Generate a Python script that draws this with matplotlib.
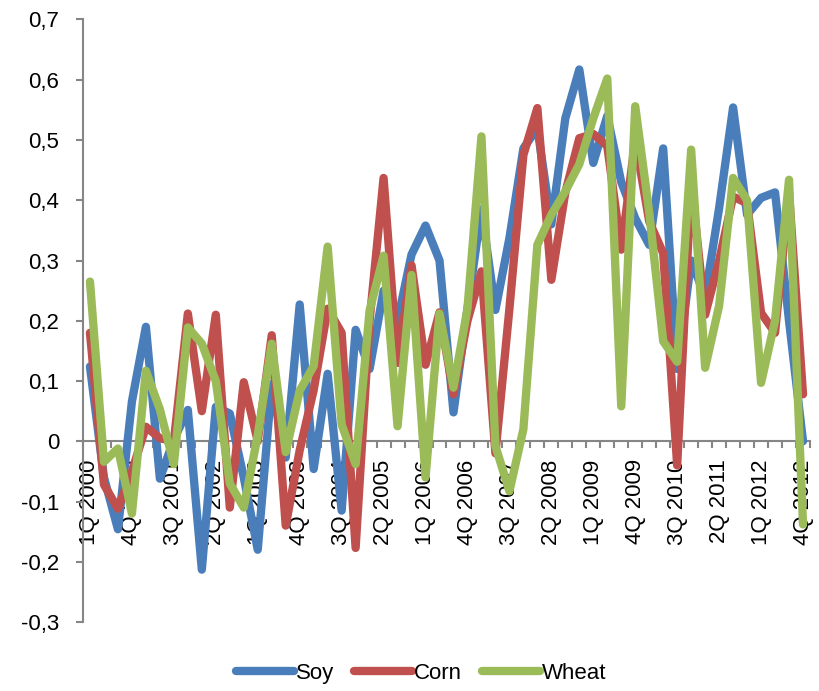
import matplotlib
matplotlib.use('Agg')
import matplotlib.pyplot as plt
import numpy as np
from matplotlib.ticker import FuncFormatter, FixedLocator

plt.rcParams['font.family'] = ['Liberation Sans', 'DejaVu Sans']

# quarters 1Q 2000 .. 4Q 2012
quarters = [f'{q}Q {y}' for y in range(2000, 2013) for q in range(1, 5)]

soy = [0.124, -0.06, -0.146, 0.066, 0.19, -0.062, 0.003, 0.052, -0.213, 0.057,
       0.046, -0.06, -0.18, 0.095, -0.027, 0.227, -0.046, 0.112, -0.115, 0.185,
       0.12, 0.25, 0.2, 0.31, 0.358, 0.3, 0.048, 0.22, 0.385, 0.218,
       0.337, 0.486, 0.52, 0.36, 0.536, 0.617, 0.462, 0.54, 0.43, 0.37,
       0.326, 0.486, 0.12, 0.3, 0.24, 0.387, 0.554, 0.376, 0.404, 0.413,
       0.2, 0.0]
corn = [0.18, -0.072, -0.112, -0.05, 0.024, 0.005, 0.0, 0.212, 0.05, 0.21,
        -0.11, 0.098, 0.0, 0.176, -0.14, -0.015, 0.085, 0.22, 0.18, -0.177,
        0.2, 0.437, 0.13, 0.292, 0.127, 0.214, 0.078, 0.2, 0.282, -0.02,
        0.22, 0.475, 0.553, 0.268, 0.413, 0.503, 0.51, 0.49, 0.318, 0.5,
        0.365, 0.312, -0.04, 0.43, 0.21, 0.3, 0.406, 0.395, 0.213, 0.18,
        0.413, 0.078]
wheat = [0.265, -0.034, -0.012, -0.12, 0.117, 0.053, -0.038, 0.189, 0.162, 0.1,
         -0.07, -0.11, 0.01, 0.162, -0.018, 0.084, 0.125, 0.323, 0.028, -0.038,
         0.217, 0.308, 0.025, 0.276, -0.06, 0.212, 0.089, 0.22, 0.506, -0.008,
         -0.083, 0.02, 0.326, 0.376, 0.415, 0.46, 0.536, 0.602, 0.058, 0.556,
         0.38, 0.166, 0.132, 0.484, 0.122, 0.225, 0.437, 0.4, 0.097, 0.2,
         0.434, -0.138]

series = [('Soy', soy, '#4A7EBB'), ('Corn', corn, '#C0504D'), ('Wheat', wheat, '#9BBB59')]

fig = plt.figure(figsize=(8.2, 6.91), dpi=100)
ax = fig.add_axes([0.1012, 0.0998, 0.8866, 0.872])

x = np.arange(len(quarters))
for name, vals, col in series:
    ax.plot(x, vals, color=col, lw=6, label=name, zorder=3,
            solid_joinstyle='round', solid_capstyle='round')

ax.set_xlim(-0.5, len(quarters) - 0.5)
ax.set_ylim(-0.3, 0.7)

grey = '#868686'
for s in ['top', 'right']:
    ax.spines[s].set_visible(False)
ax.spines['left'].set_color(grey)
ax.spines['left'].set_linewidth(1.5)
ax.spines['bottom'].set_position(('data', 0))
ax.spines['bottom'].set_color(grey)
ax.spines['bottom'].set_linewidth(1.5)

ax.set_yticks(np.arange(-0.3, 0.71, 0.1))
ax.yaxis.set_major_formatter(FuncFormatter(
    lambda v, p: '0' if abs(v) < 1e-9 else f'{v:.1f}'.replace('.', ',')))
ax.tick_params(axis='y', direction='out', length=5, width=1.5, color=grey,
               pad=12, labelsize=16)

ax.xaxis.set_major_locator(FixedLocator(x[::3]))
ax.set_xticklabels(quarters[::3], rotation=90, va='top', ha='center')
ax.xaxis.set_minor_locator(FixedLocator(np.arange(-0.5, len(quarters), 1)))
ax.tick_params(axis='x', which='major', length=0, pad=13, labelsize=16)
ax.tick_params(axis='x', which='minor', direction='out', length=5, width=1.5,
               color=grey)

fig.legend(loc='center', bbox_to_anchor=(0.514, 0.026), ncol=3, frameon=False,
           fontsize=16, handlelength=2.6, handletextpad=0.1, columnspacing=0.9)

fig.savefig('out.png', dpi=100)
